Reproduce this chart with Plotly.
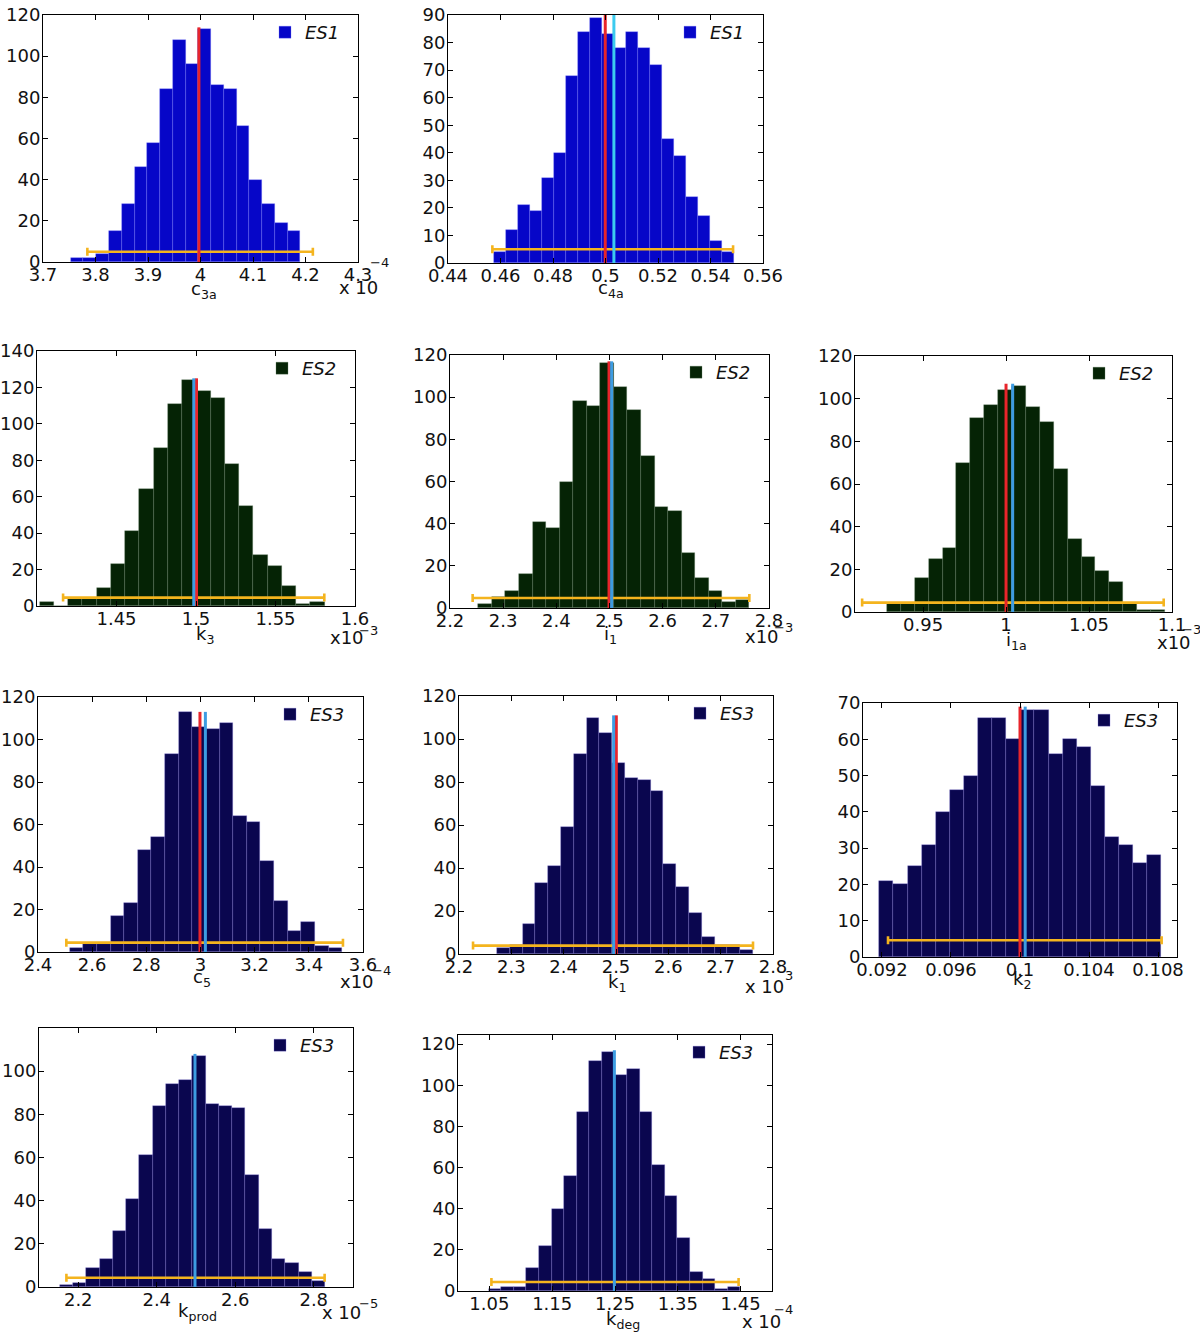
import plotly.graph_objects as go

W, H = 1200, 1333
FONT = "DejaVu Sans"

ES_FILL = {"ES1": "#0606C8", "ES2": "#052305", "ES3": "#0A064F"}
ES_EDGE = {
    "ES1": "rgba(120,120,255,0.55)",
    "ES2": "rgba(100,130,100,0.55)",
    "ES3": "rgba(125,115,215,0.55)",
}
RED = "#E8252B"
BLUE = "#3D9CE2"
CYAN = "#3CCBEF"
ORANGE = "#F4B41E"

# ---- data (x values in the units printed on each axis, before the x10^n factor)
# histogram: first bin edge, bin width, counts
c3a_bins = (3.7527, 0.02432)
c3a_counts = [2, 2, 4, 15, 28, 46, 58, 84, 108, 96, 113, 86, 84, 66, 40, 28, 19, 15]
c3a_red, c3a_blue, c3a_line_top = 3.997, None, 114
c3a_ci = (3.7845, 4.214, 5.0)  # low, high, drawn at count
c3a_xticks = ["3.7", "3.8", "3.9", "4", "4.1", "4.2", "4.3"]
c3a_yticks = [0, 20, 40, 60, 80, 100, 120]

c4a_bins = (0.4574, 0.00457)
c4a_counts = [4, 12, 21, 19, 31, 40, 68, 84, 89, 83, 78, 84, 78, 72, 45, 39, 24, 17, 8, 4]
c4a_red, c4a_blue, c4a_line_top = 0.4999, 0.5032, 90
c4a_ci = (0.4569, 0.5486, 5.0)
c4a_xticks = ["0.44", "0.46", "0.48", "0.5", "0.52", "0.54", "0.56"]
c4a_yticks = [0, 10, 20, 30, 40, 50, 60, 70, 80, 90]

k3_bins = (1.4017, 0.00896)
k3_counts = [2, 0, 4, 4, 10, 23, 41, 64, 87, 111, 124, 118, 114, 78, 55, 28, 22, 11, 1, 2]
k3_red, k3_blue, k3_line_top = 1.5003, 1.4986, 125
k3_ci = (1.4164, 1.5807, 4.6)
k3_xticks = ["1.45", "1.5", "1.55", "1.6"]
k3_yticks = [0, 20, 40, 60, 80, 100, 120, 140]

i1_bins = (2.2533, 0.0255)
i1_counts = [2, 5, 8, 16, 41, 38, 60, 98, 96, 116, 105, 94, 72, 48, 46, 26, 14, 8, 3, 4]
i1_red, i1_blue, i1_line_top = 2.4991, 2.504, 117
i1_ci = (2.2426, 2.763, 4.75)
i1_xticks = ["2.2", "2.3", "2.4", "2.5", "2.6", "2.7", "2.8"]
i1_yticks = [0, 20, 40, 60, 80, 100, 120]

i1a_bins = (0.9283, 0.00837)
i1a_counts = [4, 4, 16, 25, 30, 70, 91, 97, 104, 106, 96, 89, 67, 34, 26, 19, 14, 4, 1, 1]
i1a_red, i1a_blue, i1a_line_top = 1.0, 1.004, 107
i1a_ci = (0.9133, 1.095, 4.4)
i1a_xticks = ["0.95", "1", "1.05", "1.1"]
i1a_yticks = [0, 20, 40, 60, 80, 100, 120]

c5_bins = (2.5169, 0.0503)
c5_counts = [2, 4, 4, 17, 23, 48, 54, 93, 113, 106, 105, 108, 64, 61, 43, 24, 10, 14, 3, 2]
c5_red, c5_blue, c5_line_top = 2.998, 3.018, 113
c5_ci = (2.5046, 3.526, 4.4)
c5_xticks = ["2.4", "2.6", "2.8", "3", "3.2", "3.4", "3.6"]
c5_yticks = [0, 20, 40, 60, 80, 100, 120]

k1_bins = (2.2726, 0.02446)
k1_counts = [3, 4, 14, 33, 41, 59, 93, 110, 103, 89, 82, 81, 76, 42, 31, 19, 8, 4, 4, 2]
k1_red, k1_blue, k1_line_top = 2.5006, 2.4955, 111
k1_ci = (2.2268, 2.7618, 3.9)
k1_xticks = ["2.2", "2.3", "2.4", "2.5", "2.6", "2.7", "2.8"]
k1_yticks = [0, 20, 40, 60, 80, 100, 120]

k2_bins = (0.09185, 0.000817)
k2_counts = [21, 20, 25, 31, 40, 46, 50, 66, 66, 60, 68, 68, 56, 60, 58, 47, 33, 31, 26, 28]
k2_red, k2_blue, k2_line_top = 0.1, 0.1003, 69
k2_ci = (0.09235, 0.10821, 4.6)
k2_xticks = ["0.092", "0.096", "0.1", "0.104", "0.108"]
k2_yticks = [0, 10, 20, 30, 40, 50, 60, 70]

kprod_bins = (2.1528, 0.0338)
kprod_counts = [1, 2, 9, 13, 26, 41, 61, 84, 94, 96, 107, 85, 84, 83, 52, 27, 13, 11, 7, 3]
kprod_red, kprod_blue, kprod_line_top = None, 2.4974, 108
kprod_ci = (2.1698, 2.8277, 4.3)
kprod_xticks = ["2.2", "2.4", "2.6", "2.8"]
kprod_yticks = [0, 20, 40, 60, 80, 100]

kdeg_bins = (1.0489, 0.02003)
kdeg_counts = [1, 2, 2, 11, 22, 40, 56, 87, 112, 116, 105, 108, 87, 61, 46, 26, 9, 6, 1, 2]
kdeg_red, kdeg_blue, kdeg_line_top = None, 1.249, 117
kdeg_ci = (1.0532, 1.4468, 4.4)
kdeg_xticks = ["1.05", "1.15", "1.25", "1.35", "1.45"]
kdeg_yticks = [0, 20, 40, 60, 80, 100, 120]

# ---- layout of the panels: plot box in page pixels (left, right, top, bottom);
# the x10^n factor is written as a base text and a raised exponent text
PANELS = [
    dict(es="ES1", bins=c3a_bins, counts=c3a_counts, red=c3a_red, blue=c3a_blue, top=c3a_line_top,
         ci=c3a_ci, xticks=c3a_xticks, yticks=c3a_yticks, xr=[3.7, 4.3], yr=[0, 120],
         box=(43, 358, 15, 262), blue_col=BLUE,
         title="c<sub>3a</sub>", title_at=(204, 290),
         exp=("x 10", (358, 287), "−4", (379, 262))),
    dict(es="ES1", bins=c4a_bins, counts=c4a_counts, red=c4a_red, blue=c4a_blue, top=c4a_line_top,
         ci=c4a_ci, xticks=c4a_xticks, yticks=c4a_yticks, xr=[0.44, 0.56], yr=[0, 90],
         box=(448, 763, 15, 263), blue_col=CYAN,
         title="c<sub>4a</sub>", title_at=(611, 289), exp=None),
    dict(es="ES2", bins=k3_bins, counts=k3_counts, red=k3_red, blue=k3_blue, top=k3_line_top,
         ci=k3_ci, xticks=k3_xticks, yticks=k3_yticks, xr=[1.4, 1.6], yr=[0, 140],
         box=(37, 355, 351, 606), blue_col=BLUE,
         title="k<sub>3</sub>", title_at=(205, 635),
         exp=("x10", (347, 637), "−3", (368, 630))),
    dict(es="ES2", bins=i1_bins, counts=i1_counts, red=i1_red, blue=i1_blue, top=i1_line_top,
         ci=i1_ci, xticks=i1_xticks, yticks=i1_yticks, xr=[2.2, 2.8], yr=[0, 120],
         box=(450, 769, 355, 608), blue_col=BLUE,
         title="i<sub>1</sub>", title_at=(610, 635),
         exp=("x10", (762, 636), "−3", (783, 627))),
    dict(es="ES2", bins=i1a_bins, counts=i1a_counts, red=i1a_red, blue=i1a_blue, top=i1a_line_top,
         ci=i1a_ci, xticks=i1a_xticks, yticks=i1a_yticks, xr=[0.909, 1.1], yr=[0, 120],
         box=(855, 1172, 356, 612), blue_col=BLUE,
         title="i<sub>1a</sub>", title_at=(1016, 641),
         exp=("x10", (1174, 642), "−3", (1191, 629))),
    dict(es="ES3", bins=c5_bins, counts=c5_counts, red=c5_red, blue=c5_blue, top=c5_line_top,
         ci=c5_ci, xticks=c5_xticks, yticks=c5_yticks, xr=[2.4, 3.6], yr=[0, 120],
         box=(38, 363, 697, 952), blue_col=BLUE,
         title="c<sub>5</sub>", title_at=(202, 978),
         exp=("x10", (357, 981), "−4", (381, 970))),
    dict(es="ES3", bins=k1_bins, counts=k1_counts, red=k1_red, blue=k1_blue, top=k1_line_top,
         ci=k1_ci, xticks=k1_xticks, yticks=k1_yticks, xr=[2.2, 2.8], yr=[0, 120],
         box=(459, 773, 696, 954), blue_col=BLUE,
         title="k<sub>1</sub>", title_at=(617, 983),
         exp=("x 10", (764, 986), "3", (789, 975))),
    dict(es="ES3", bins=k2_bins, counts=k2_counts, red=k2_red, blue=k2_blue, top=k2_line_top,
         ci=k2_ci, xticks=k2_xticks, yticks=k2_yticks, xr=[0.0909, 0.1091], yr=[0, 70],
         box=(863, 1177, 703, 957), blue_col=BLUE,
         title="k<sub>2</sub>", title_at=(1022, 980), exp=None),
    dict(es="ES3", bins=kprod_bins, counts=kprod_counts, red=kprod_red, blue=kprod_blue, top=kprod_line_top,
         ci=kprod_ci, xticks=kprod_xticks, yticks=kprod_yticks, xr=[2.1, 2.9], yr=[0, 120],
         box=(39, 353, 1028, 1287), blue_col=BLUE,
         title="k<sub>prod</sub>", title_at=(197, 1312),
         exp=("x 10", (342, 1312), "−5", (368, 1303))),
    dict(es="ES3", bins=kdeg_bins, counts=kdeg_counts, red=kdeg_red, blue=kdeg_blue, top=kdeg_line_top,
         ci=kdeg_ci, xticks=kdeg_xticks, yticks=kdeg_yticks, xr=[1.0, 1.5], yr=[0, 124.4],
         box=(458, 772, 1035, 1291), blue_col=BLUE,
         title="k<sub>deg</sub>", title_at=(623, 1320),
         exp=("x 10", (761, 1321), "−4", (783, 1309))),
]


def px(x, y):
    """Page pixel -> paper coordinates."""
    return x / W, 1 - y / H


def text_at(text, at, size):
    x, y = px(*at)
    return dict(x=x, y=y, xref="paper", yref="paper", text=text, showarrow=False,
                xanchor="center", yanchor="middle",
                font=dict(family=FONT, size=size, color="#111111"))


fig = go.Figure()
layout = {}
annotations = []

for i, p in enumerate(PANELS, start=1):
    sfx = "" if i == 1 else str(i)
    xa, ya, lg = "x" + sfx, "y" + sfx, "legend" + sfx
    left, right, top, bottom = p["box"]

    bin0, bw = p["bins"]
    centers = [bin0 + (k + 0.5) * bw for k in range(len(p["counts"]))]
    fig.add_trace(go.Bar(
        x=centers, y=p["counts"], width=bw, name=p["es"],
        marker=dict(color=ES_FILL[p["es"]], line=dict(color=ES_EDGE[p["es"]], width=0.6)),
        xaxis=xa, yaxis=ya, legend=lg, showlegend=True, hoverinfo="skip",
    ))

    lo, hi, yv = p["ci"]
    mid = (lo + hi) / 2
    fig.add_trace(go.Scatter(
        x=[mid], y=[yv], mode="markers", marker=dict(size=1, color=ORANGE),
        error_x=dict(type="data", symmetric=False, array=[hi - mid], arrayminus=[mid - lo],
                     color=ORANGE, thickness=2.6, width=4),
        xaxis=xa, yaxis=ya, showlegend=False, hoverinfo="skip",
    ))

    for val, col in ((p["red"], RED), (p["blue"], p["blue_col"])):
        if val is None:
            continue
        fig.add_trace(go.Scatter(
            x=[val, val], y=[0, p["top"]], mode="lines", line=dict(color=col, width=3),
            xaxis=xa, yaxis=ya, showlegend=False, hoverinfo="skip",
        ))

    axis_style = dict(
        ticks="inside", ticklen=5, tickcolor="black", showline=True, mirror="ticks",
        linecolor="black", linewidth=1, showgrid=False, zeroline=False, automargin=False,
        tickfont=dict(family=FONT, size=18, color="#111111"),
    )
    layout["xaxis" + sfx] = dict(
        domain=[left / W, right / W], anchor=ya, range=p["xr"], ticklabelstandoff=-4,
        tickvals=[float(t) for t in p["xticks"]], ticktext=p["xticks"], **axis_style,
    )
    layout["yaxis" + sfx] = dict(
        domain=[1 - bottom / H, 1 - top / H], anchor=xa, range=p["yr"], ticklabelstandoff=-2,
        tickvals=p["yticks"], ticktext=[str(t) for t in p["yticks"]], **axis_style,
    )
    lx, ly = px(right - 13, top - 1)
    layout[lg] = dict(
        x=lx, y=ly, xanchor="right", yanchor="top", bgcolor="rgba(0,0,0,0)",
        font=dict(family=FONT, size=18, style="italic", color="#111111"), itemwidth=30,
    )

    annotations.append(text_at(p["title"], p["title_at"], 18))
    if p["exp"]:
        base, base_at, power, power_at = p["exp"]
        annotations.append(text_at(base, base_at, 18))
        annotations.append(text_at(power, power_at, 13))

fig.update_layout(
    width=W, height=H, autosize=False,
    margin=dict(l=0, r=0, t=0, b=0, autoexpand=False),
    paper_bgcolor="white", plot_bgcolor="white",
    font=dict(family=FONT, size=18, color="#111111"),
    barmode="overlay", bargap=0,
    annotations=annotations,
    **layout,
)

# the page's default 8px body margin would push the figure off the window
fig.write_html("out.html", config={"displayModeBar": False},
               post_script="document.body.style.margin = '0';")
